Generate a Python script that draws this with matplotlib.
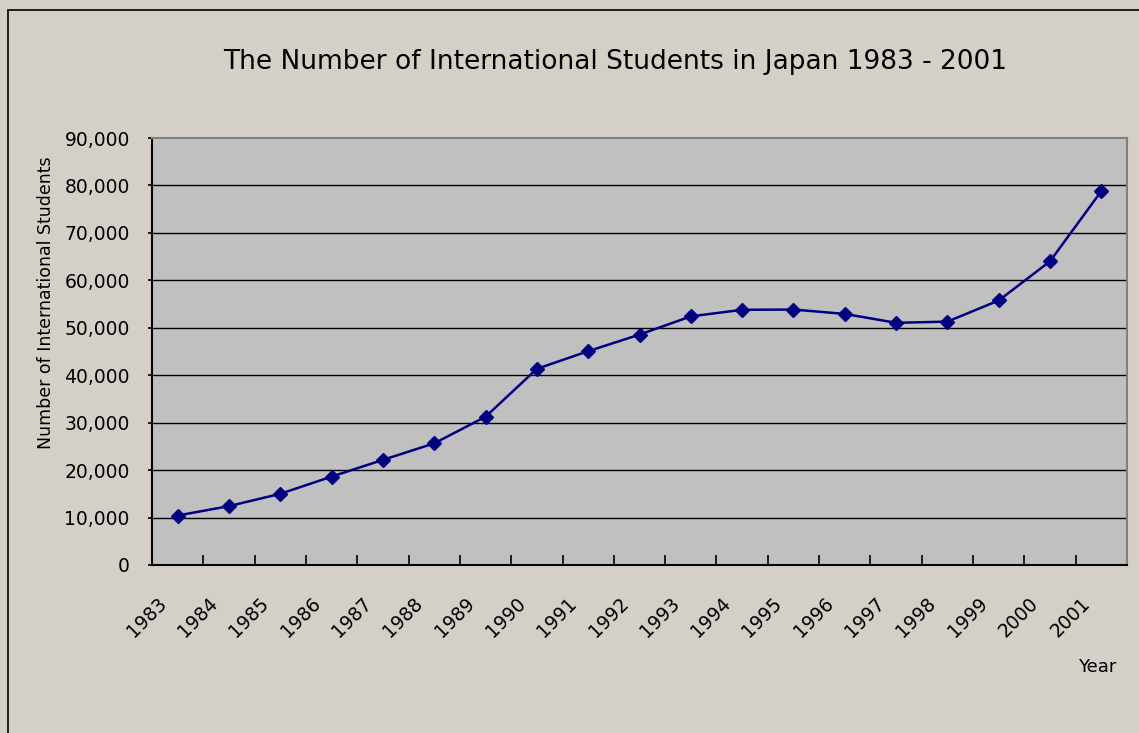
import numpy as np
import matplotlib
matplotlib.use('Agg')
from matplotlib import pyplot as plt
from matplotlib.patches import Rectangle
from matplotlib.transforms import offset_copy

# data
years = ['1983', '1984', '1985', '1986', '1987', '1988', '1989', '1990', '1991', '1992',
         '1993', '1994', '1995', '1996', '1997', '1998', '1999', '2000', '2001']
students = [10428, 12410, 15009, 18631, 22154, 25643, 31251, 41347, 45066, 48561,
            52405, 53787, 53847, 52921, 51047, 51298, 55755, 64011, 78812]
y_ticks = [0, 10000, 20000, 30000, 40000, 50000, 60000, 70000, 80000, 90000]

W, H = 1139, 733
fig = plt.figure(figsize=(W / 100, H / 100), dpi=100)
fig.patch.set_facecolor('#d4d0c8')

# outer chart frame (left and top edges visible, the rest runs off the image)
fig.add_artist(Rectangle((8 / W, -0.05), 1.1, 1 - 10 / H + 0.05, transform=fig.transFigure,
                         fill=False, edgecolor='black', linewidth=1.2, clip_on=False))

# plot area in pixel coordinates
left, right, top, bottom = 152, 1127, 138, 565
ax = fig.add_axes([left / W, 1 - bottom / H, (right - left) / W, (bottom - top) / H])
ax.set_facecolor('#c0c0c0')

n = len(years)
x = np.arange(n) + 0.5
ax.plot(x, students, color='#000080', linewidth=1.8, marker='D', markersize=7.5,
        markerfacecolor='#000080', markeredgecolor='#000080', zorder=3)

ax.set_xlim(0, n)
ax.set_ylim(0, 90000)

for yv in y_ticks[1:-1]:
    ax.axhline(yv, color='black', linewidth=1.0, zorder=1)

for side in ['top', 'right']:
    ax.spines[side].set_color('#808080')
    ax.spines[side].set_linewidth(1.5)
for side in ['left', 'bottom']:
    ax.spines[side].set_color('black')
    ax.spines[side].set_linewidth(1.5)

font = 'DejaVu Sans'
ax.set_yticks(y_ticks)
ax.set_yticklabels(['{:,}'.format(v) for v in y_ticks], fontsize=13.5, family=font)
ax.tick_params(axis='y', direction='out', length=3, width=1.2, pad=13)

# category boundary ticks pointing inward
ax.set_xticks(np.arange(1, n + 1))
ax.set_xticklabels([])
ax.tick_params(axis='x', direction='in', length=7, width=1.2)

# rotated year labels, anchored left of each category centre
lab_tr = offset_copy(ax.get_xaxis_transform(), fig=fig, x=-21, y=-29, units='dots')
for xi, yr in zip(x, years):
    ax.text(xi, 0, yr, transform=lab_tr, rotation=45, rotation_mode='anchor',
            ha='right', va='top', fontsize=13.5, family=font, clip_on=False)

fig.text(615 / W, 1 - 62 / H, 'The Number of International Students in Japan 1983 - 2001',
         ha='center', va='center', fontsize=19, family=font)
fig.text(46 / W, 1 - 303 / H, 'Number of International Students', rotation=90,
         ha='center', va='center', fontsize=12.5, family=font)
fig.text(1097 / W, 1 - 667 / H, 'Year', ha='center', va='center', fontsize=13, family=font)

fig.savefig('out.png', dpi=100, facecolor=fig.get_facecolor())
